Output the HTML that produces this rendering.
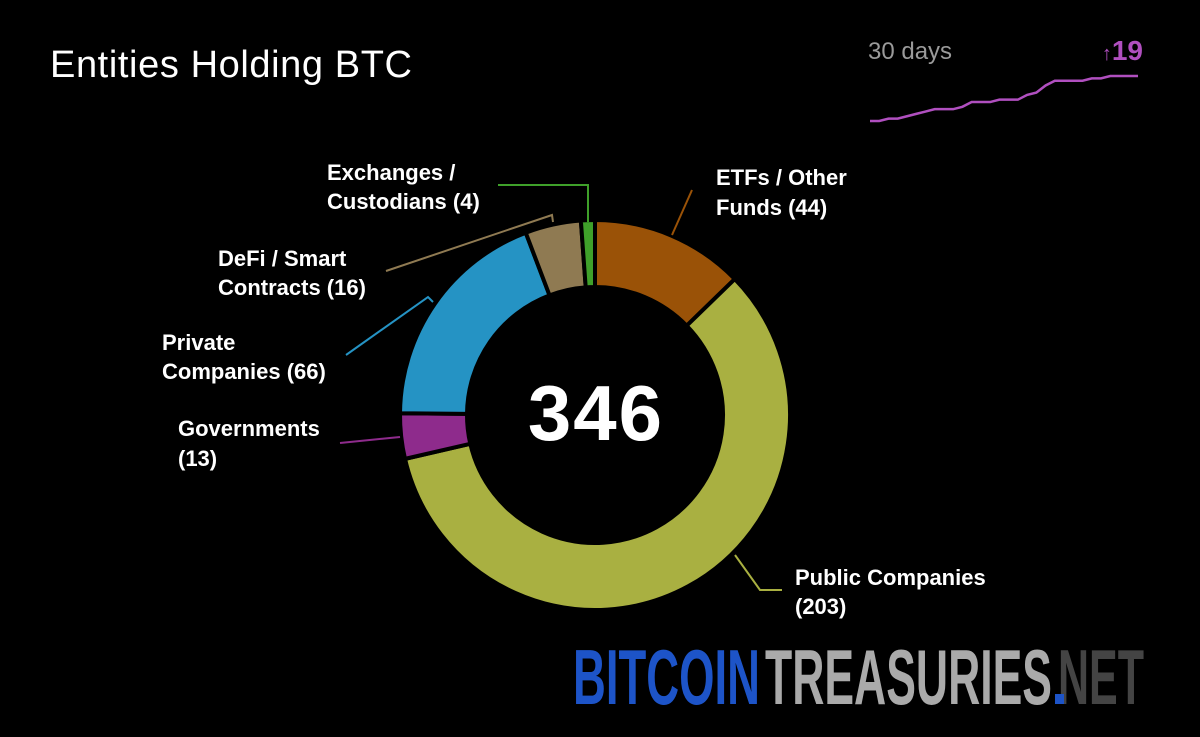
<!DOCTYPE html>
<html><head><meta charset="utf-8"><style>
html,body{margin:0;padding:0;background:#000;}
svg{display:block;}
.lbl{font-family:"Liberation Sans",sans-serif;font-weight:bold;font-size:22px;fill:#fff;}
</style></head><body>
<svg id="chart" width="1200" height="737" viewBox="0 0 1200 737">
<rect width="1200" height="737" fill="#000"/>
<text x="50" y="77" font-family="Liberation Sans,sans-serif" font-size="38" letter-spacing="0.6" fill="#fff">Entities Holding BTC</text>
<text x="868" y="59" font-family="Liberation Sans,sans-serif" font-size="24" fill="#9a9a9a">30 days</text>
<text x="1143" y="60" text-anchor="end" font-family="Liberation Sans,sans-serif" font-weight="bold" font-size="28" fill="#b04fbf"><tspan font-size="20" font-weight="normal">↑</tspan>19</text>
<g id="spark"></g>
<g id="donut"></g>
<g id="leaders">
<polyline points="588,222 588,185 498,185" fill="none" stroke="#3fa02a" stroke-width="2"/>
<polyline points="672,235 692,190" fill="none" stroke="#9a5207" stroke-width="2"/>
<polyline points="553,222 552,215 386,271" fill="none" stroke="#8f7a52" stroke-width="2"/>
<polyline points="433,302 428,297 346,355" fill="none" stroke="#2593c4" stroke-width="2"/>
<polyline points="400,437 340,443" fill="none" stroke="#8e2b8c" stroke-width="2"/>
<polyline points="735,555 760,590 782,590" fill="none" stroke="#a9b041" stroke-width="2"/>
</g>
<g>
<text class="lbl" x="327" y="180"><tspan x="327">Exchanges /</tspan><tspan x="327" y="209">Custodians (4)</tspan></text>
<text class="lbl" x="716" y="185"><tspan x="716">ETFs / Other</tspan><tspan x="716" y="215">Funds (44)</tspan></text>
<text class="lbl" x="218" y="266"><tspan x="218">DeFi / Smart</tspan><tspan x="218" y="295">Contracts (16)</tspan></text>
<text class="lbl" x="162" y="350"><tspan x="162">Private</tspan><tspan x="162" y="379">Companies (66)</tspan></text>
<text class="lbl" x="178" y="436"><tspan x="178">Governments</tspan><tspan x="178" y="466">(13)</tspan></text>
<text class="lbl" x="795" y="585"><tspan x="795">Public Companies</tspan><tspan x="795" y="614">(203)</tspan></text>
</g>
<text id="total" x="596" y="440" text-anchor="middle" font-family="Liberation Sans,sans-serif" font-weight="bold" font-size="78" letter-spacing="2" fill="#fff">346</text>
<g font-family="'Liberation Sans Narrow','Liberation Sans',sans-serif" font-weight="bold" font-size="78">
<text x="573" y="704" textLength="187" lengthAdjust="spacingAndGlyphs" fill="#1d54c8">BITCOIN</text>
<text x="765" y="704" textLength="287" lengthAdjust="spacingAndGlyphs" fill="#aaaaaa">TREASURIES</text>
<text x="1058" y="704" textLength="86" lengthAdjust="spacingAndGlyphs" fill="#444">NET</text>
<rect x="1055" y="694" width="9" height="10" fill="#1d54c8"/>
</g>
</svg>
<script>
const categories=["ETFs / Other Funds","Public Companies","Governments","Private Companies","DeFi / Smart Contracts","Exchanges / Custodians"];
const counts=[44,203,13,66,16,4];
const colors=["#9a5207","#a9b041","#8e2b8c","#2593c4","#8f7a52","#3fa02a"];
const sparkValues=[327,327,328,328,329,330,331,332,332,332,333,335,335,335,336,336,336,338,339,342,344,344,344,344,345,345,346,346,346,346];
const NS="http://www.w3.org/2000/svg";
const cx=595,cy=415,ro=195,ri=128;
const total=counts.reduce((a,b)=>a+b,0);
document.getElementById('total').textContent=total;
function pt(r,a){return [cx+r*Math.sin(a),cy-r*Math.cos(a)];}
let acc=0;
const dg=document.getElementById('donut');
counts.forEach((v,i)=>{
  const a0=acc/total*2*Math.PI,a1=(acc+v)/total*2*Math.PI;acc+=v;
  const large=(a1-a0)>Math.PI?1:0;
  const p1=pt(ro,a0),p2=pt(ro,a1),p3=pt(ri,a1),p4=pt(ri,a0);
  const p=document.createElementNS(NS,'path');
  p.setAttribute('d',`M${p1}A${ro},${ro} 0 ${large} 1 ${p2}L${p3}A${ri},${ri} 0 ${large} 0 ${p4}Z`);
  p.setAttribute('fill',colors[i]);p.setAttribute('stroke','#000');p.setAttribute('stroke-width','4');p.setAttribute('stroke-linejoin','round');
  
  
  dg.appendChild(p);
});
const sx0=870,sx1=1138,sy0=121,sy1=76;
const vmin=Math.min(...sparkValues),vmax=Math.max(...sparkValues);
const xs=i=>sx0+i*(sx1-sx0)/(sparkValues.length-1);
const ys=v=>sy0-(v-vmin)/(vmax-vmin||1)*(sy0-sy1);
const pl=document.createElementNS(NS,'polyline');
pl.setAttribute('points',sparkValues.map((v,i)=>xs(i)+','+ys(v)).join(' '));
pl.setAttribute('fill','none');pl.setAttribute('stroke','#b04fbf');pl.setAttribute('stroke-width','2.5');


document.getElementById('spark').appendChild(pl);
</script>
</body></html>
